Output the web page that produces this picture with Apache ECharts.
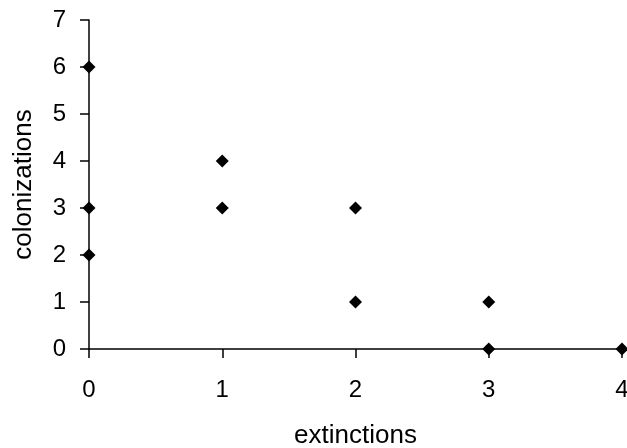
<!DOCTYPE html>
<html>
<head>
<meta charset="utf-8">
<script src="https://cdn.jsdelivr.net/npm/echarts@6/dist/echarts.min.js"></script>
<style>
html,body{margin:0;padding:0;background:#fff;}
#chart{width:627px;height:448px;}
</style>
</head>
<body>
<div id="chart"></div>
<script>
const extinctions = [0, 0, 0, 1, 1, 2, 2, 3, 3, 4];
const colonizations = [6, 3, 2, 4, 3, 3, 1, 1, 0, 0];
const xTicks = [0, 1, 2, 3, 4];
const yTicks = [0, 1, 2, 3, 4, 5, 6, 7];

const points = extinctions.map((x, i) => [x, colonizations[i]]);
const FONT = 'Liberation Sans, Arial, sans-serif';

const chart = echarts.init(document.getElementById('chart'));
chart.setOption({
  animation: false,
  backgroundColor: '#fff',
  grid: { left: 89, right: 5, top: 20, bottom: 99, containLabel: false, outerBoundsMode: 'none' },
  xAxis: {
    type: 'value',
    min: xTicks[0], max: xTicks[xTicks.length - 1], interval: 1,
    name: 'extinctions', nameLocation: 'middle', nameGap: 74,
    nameTextStyle: { fontFamily: FONT, fontSize: 26, color: '#000' },
    axisLine: { show: true, onZero: false, lineStyle: { color: '#000', width: 1.5 } },
    axisTick: { show: true, inside: false, length: 9, lineStyle: { color: '#000', width: 1.5 } },
    axisLabel: { fontFamily: FONT, fontSize: 24, color: '#000', margin: 29 },
    splitLine: { show: false }
  },
  yAxis: {
    type: 'value',
    min: yTicks[0], max: yTicks[yTicks.length - 1], interval: 1,
    name: 'colonizations', nameLocation: 'middle', nameGap: 52,
    nameTextStyle: { fontFamily: FONT, fontSize: 26, color: '#000' },
    axisLine: { show: true, onZero: false, lineStyle: { color: '#000', width: 1.5 } },
    axisTick: { show: true, inside: false, length: 9, lineStyle: { color: '#000', width: 1.5 } },
    axisLabel: { fontFamily: FONT, fontSize: 24, color: '#000', margin: 23 },
    splitLine: { show: false }
  },
  series: [{
    type: 'scatter',
    data: points,
    symbol: 'diamond',
    symbolSize: 13,
    itemStyle: { color: '#000', opacity: 1 },
    clip: false
  }]
});
</script>
</body>
</html>
